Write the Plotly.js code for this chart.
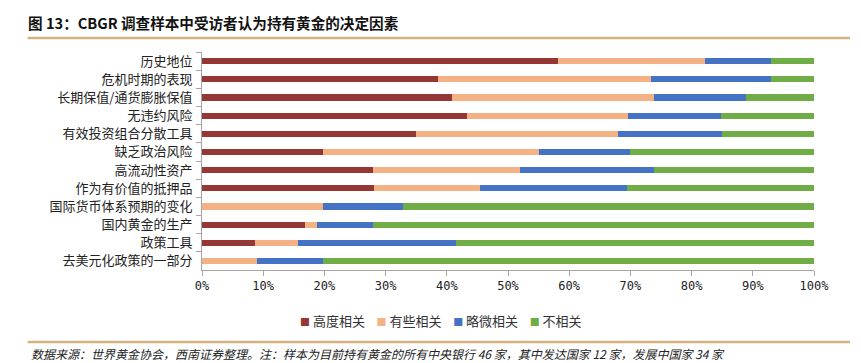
<!DOCTYPE html>
<html><head><meta charset="utf-8">
<script src="https://cdn.plot.ly/plotly-3.0.1.min.js"></script>
<style>body{margin:0;padding:0;background:#fff}#chart{width:861px;height:363px}</style>
</head><body><div id="chart"></div>
<script>
const categories = ["历史地位","危机时期的表现","长期保值/通货膨胀保值","无违约风险","有效投资组合分散工具","缺乏政治风险","高流动性资产","作为有价值的抵押品","国际货币体系预期的变化","国内黄金的生产","政策工具","去美元化政策的一部分"];
const seriesNames = ["高度相关","有些相关","略微相关","不相关"];
const high   = [58.2, 38.6, 40.9, 43.3, 35.0, 19.8, 27.9, 28.1, 0.0, 16.9, 8.7, 0.0];
const some   = [24.0, 34.7, 33.0, 26.3, 33.0, 35.2, 24.1, 17.4, 19.8, 1.9, 7.0, 9.0];
const slight = [10.8, 19.7, 15.0, 15.2, 17.0, 15.0, 21.9, 24.0, 13.0, 9.1, 25.8, 10.8];
const none   = [7.0, 7.0, 11.1, 15.2, 15.0, 30.0, 26.1, 30.5, 67.2, 72.1, 58.5, 80.2];
const xTickVals = [0,10,20,30,40,50,60,70,80,90,100];
const xTickText = ["0%","10%","20%","30%","40%","50%","60%","70%","80%","90%","100%"];

const colors = ["#953735","#f4b183","#4472c4","#70ad47"];
const vals = [high, some, slight, none];
const traces = vals.map((v,i)=>({
  type:'bar', orientation:'h', name:seriesNames[i], x:v, y:categories,
  marker:{color:colors[i], line:{width:0}}, hoverinfo:'none', showlegend:false
}));

const L=201.5, R=814, T=52, B=270;
const W=R-L, H=B-T;
const px=x=>(x-L)/W, py=y=>(B-y)/H;

const legendText = seriesNames.map((n,i)=>
  `<span style="color:${colors[i]};font-size:10px">■</span> ${n}`).join('&nbsp;&nbsp;&nbsp;&nbsp;');

const layout = {
  width:861, height:363,
  margin:{l:L, r:861-R, t:T, b:363-B, pad:0},
  paper_bgcolor:'#fff', plot_bgcolor:'#fff',
  barmode:'stack', bargap:0.66,
  showlegend:false,
  xaxis:{range:[0,100], tickvals:xTickVals, ticktext:xTickText, showgrid:false, zeroline:false,
    showline:true, linecolor:'#a6a6a6', linewidth:1, ticks:'outside', ticklen:5, tickcolor:'#a6a6a6',
    tickfont:{family:'DejaVu Sans Mono', size:12, color:'#222'}, fixedrange:true},
  yaxis:{autorange:'reversed', type:'category', showgrid:false, zeroline:false, showline:true,
    linecolor:'#a6a6a6', linewidth:1, ticks:'outside', ticklen:5, tickcolor:'#a6a6a6', tickson:'boundaries',
    ticklabelstandoff:6,
    tickfont:{family:'Noto Sans CJK SC', size:13, color:'#222'}, fixedrange:true},
  title:{text:'<b>图 13：CBGR 调查样本中受访者认为持有黄金的决定因素</b>', xref:'container', yref:'container',
    x:28/861, xanchor:'left', y:1-24/363, yanchor:'middle', font:{family:'Noto Sans CJK SC', size:14.6, color:'#111'}},
  shapes:[
    {type:'line', xref:'paper', yref:'paper', x0:px(27), x1:px(850), y0:py(38), y1:py(38), line:{color:'#d4b27e', width:2.5}},
    {type:'line', xref:'paper', yref:'paper', x0:px(27), x1:px(850), y0:py(342), y1:py(342), line:{color:'#d4b27e', width:2.5}}
  ],
  annotations:[
    {text:legendText, xref:'paper', yref:'paper', x:px(441), xanchor:'center', y:py(320), yanchor:'middle',
     showarrow:false, font:{family:'Noto Sans CJK SC', size:13, color:'#333'}},
    {text:'<i>数据来源：世界黄金协会，西南证券整理。注：样本为目前持有黄金的所有中央银行 46 家，其中发达国家 12 家，发展中国家 34 家</i>',
     xref:'paper', yref:'paper', x:px(28), xanchor:'left', y:py(353.5), yanchor:'middle', showarrow:false,
     font:{family:'Noto Sans CJK SC', size:12, color:'#222'}}
  ]
};
Plotly.newPlot('chart', traces, layout, {displayModeBar:false, staticPlot:true});
</script></body></html>
